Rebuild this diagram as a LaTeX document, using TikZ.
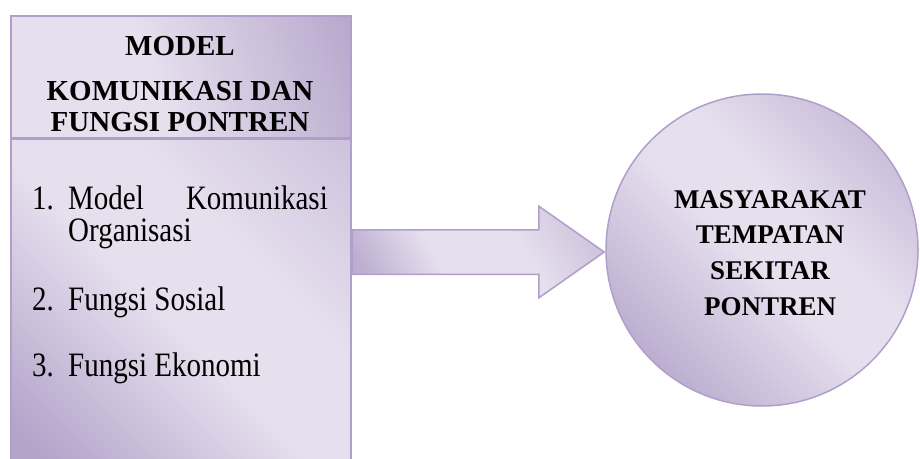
\documentclass[tikz,border=0pt]{standalone}
\usepackage{fontspec}
\setmainfont{Liberation Serif}
\usetikzlibrary{shapes.arrows}
\definecolor{lavlight}{HTML}{E6E0EE}
\definecolor{lavdark}{HTML}{B4A3CA}
\definecolor{lavedge}{HTML}{B09ECB}
% diagonal lavender fill: dark end, light middle, softer dark end
\pgfdeclarehorizontalshading{lavgrad}{100bp}{%
  color(0bp)=(lavdark); color(20bp)=(lavdark); color(48bp)=(lavlight);
  color(62bp)=(lavlight); color(88bp)=(lavdark!55!lavlight); color(100bp)=(lavdark!55!lavlight)}
\pgfdeclarehorizontalshading{lavgradc}{100bp}{%
  color(0bp)=(lavdark); color(20bp)=(lavdark); color(48bp)=(lavlight);
  color(58bp)=(lavlight); color(85bp)=(lavdark!85!lavlight); color(100bp)=(lavdark!85!lavlight)}
\pgfdeclarehorizontalshading{lavgrada}{100bp}{%
  color(0bp)=(lavdark); color(22bp)=(lavdark!80!lavlight); color(40bp)=(lavlight);
  color(60bp)=(lavlight); color(85bp)=(lavdark!65!lavlight); color(100bp)=(lavdark!65!lavlight)}
\pgfdeclarehorizontalshading{lavramp}{100bp}{%
  color(0bp)=(lavlight); color(45bp)=(lavlight); color(85bp)=(lavdark); color(100bp)=(lavdark)}
% list entries are set slightly taller than wide
\newcommand{\tallword}[1]{\scalebox{1}[1.18]{#1}}
\tikzset{
  panel/.style={rectangle, draw=lavedge, line width=1.5pt, inner sep=0pt},
  diagshade/.style={shading=lavgrad, shading angle=45},
  headtxt/.style={font=\fontsize{29}{33}\selectfont\bfseries, inner sep=0pt, anchor=base},
  itemtxt/.style={font=\fontsize{29}{33}\selectfont, inner sep=0pt, anchor=base west},
  itemtxtr/.style={font=\fontsize{29}{33}\selectfont, inner sep=0pt, anchor=base east},
  circtxt/.style={font=\fontsize{27}{30}\selectfont\bfseries, inner sep=0pt, anchor=base},
}
\begin{document}
\begin{tikzpicture}[x=1pt,y=-1pt]
\useasboundingbox (0,0) rectangle (920,458);
\clip (0,0) rectangle (920,458);

% left column: title panel and list panel
\node[panel, minimum width=340pt, minimum height=122pt, anchor=north west,
      shading=lavramp, shading angle=20]
      (hdr) at (10,15) {};
\node[panel, minimum width=340pt, minimum height=340pt, anchor=north west, diagshade]
      (lst) at (hdr.south west) {};

% title
\node[headtxt] (h1) at (180,55)  {MODEL};
\node[headtxt] (h2) at (180,100) {KOMUNIKASI DAN};
\node[headtxt] (h3) at (180,131) {FUNGSI PONTREN};

% numbered list
\node[itemtxt]  (n1)  at (32,209)  {\tallword{1.}};
\node[itemtxt]  (i1a) at (68,209)  {\tallword{Model}};
\node[itemtxtr] (i1b) at (328,209) {\tallword{Komunikasi}};
\node[itemtxt]  (i1c) at (68,241)  {\tallword{Organisasi}};
\node[itemtxt]  (n2)  at (32,310)  {\tallword{2.}};
\node[itemtxt]  (i2)  at (68,310)  {\tallword{Fungsi Sosial}};
\node[itemtxt]  (n3)  at (32,376)  {\tallword{3.}};
\node[itemtxt]  (i3)  at (68,376)  {\tallword{Fungsi Ekonomi}};

% target circle
\node[circle, draw=lavedge, line width=1.5pt, minimum size=312pt, inner sep=0pt,
      shading=lavgradc, shading angle=45]
      (circ) at (762,250) {};
\node[circtxt] (c1) at (770,208) {MASYARAKAT};
\node[circtxt] (c2) at (770,243) {TEMPATAN};
\node[circtxt] (c3) at (770,279) {SEKITAR};
\node[circtxt] (c4) at (770,315) {PONTREN};

% block arrow from the list panel towards the circle
\node[single arrow, draw=lavedge, line width=1.5pt, inner xsep=0pt, inner ysep=21.5pt,
      minimum height=252pt,
      single arrow head extend=23.5pt, single arrow tip angle=70,
      anchor=tail, shading=lavgrada, shading angle=30]
      (arr) at (lst.east |- 0,252) {};
\end{tikzpicture}
\end{document}
